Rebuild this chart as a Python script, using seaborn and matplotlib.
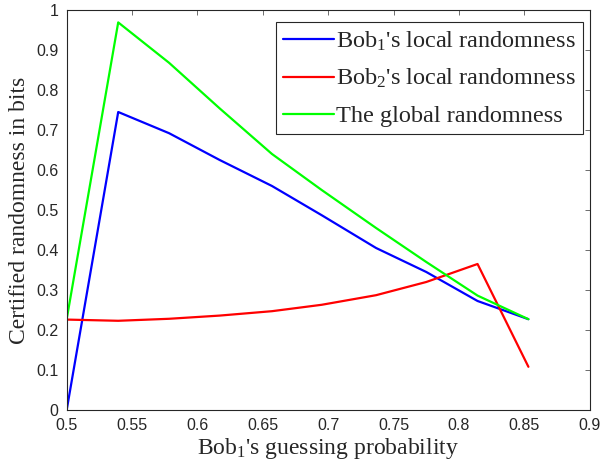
import numpy as np
import pandas as pd
import matplotlib
matplotlib.use("Agg")
import matplotlib.pyplot as plt
import seaborn as sns

# guessing probability of Bob1 (x) and certified randomness (y)
guess_prob = [0.5, 0.5394, 0.5783, 0.617, 0.657, 0.695, 0.7366, 0.775, 0.8142, 0.8531]
bob1_local = [0.0, 0.745, 0.692, 0.625, 0.560, 0.487, 0.405, 0.345, 0.2725, 0.227]
bob2_local = [0.226, 0.223, 0.228, 0.236, 0.247, 0.263, 0.287, 0.320, 0.365, 0.108]
global_rand = [0.227, 0.969, 0.868, 0.754, 0.640, 0.550, 0.455, 0.370, 0.286, 0.227]

labels = ["Bob$_1$'s local randomness", "Bob$_2$'s local randomness", "The global randomness"]
colors = ["#0000ff", "#ff0000", "#00ff00"]

df = pd.DataFrame({
    "x": guess_prob * 3,
    "y": bob1_local + bob2_local + global_rand,
    "series": np.repeat(labels, len(guess_prob)),
})

sns.set_style("white")
plt.rcParams["mathtext.fontset"] = "custom"
plt.rcParams["mathtext.rm"] = "Liberation Serif"
plt.rcParams["mathtext.it"] = "Liberation Serif"

fig = plt.figure(figsize=(6.03, 4.72), dpi=100)
ax = fig.add_axes([0.1106, 0.1314, 0.8674, 0.8474])

sns.lineplot(data=df, x="x", y="y", hue="series", palette=colors,
             linewidth=1.6, ax=ax, sort=False, estimator=None)

ax.set_xlim(0.5, 0.9)
ax.set_ylim(0, 1)
ax.set_xticks(np.arange(0.5, 0.901, 0.05))
ax.set_yticks(np.arange(0, 1.001, 0.1))
ax.set_xticklabels(["0.5", "0.55", "0.6", "0.65", "0.7", "0.75", "0.8", "0.85", "0.9"])
ax.set_yticklabels(["0", "0.1", "0.2", "0.3", "0.4", "0.5", "0.6", "0.7", "0.8", "0.9", "1"])
ax.tick_params(direction="in", length=3.5, width=0.6, color="#555555",
               top=True, right=True, labelsize=11.5, labelcolor="#262626")
ax.tick_params(axis="x", pad=6)
ax.tick_params(axis="y", pad=6)
for lab in ax.get_xticklabels() + ax.get_yticklabels():
    lab.set_family("Liberation Sans")
for sp in ax.spines.values():
    sp.set_color("#262626")
    sp.set_linewidth(0.8)

ax.set_xlabel("Bob$_1$'s guessing probability", family="Liberation Serif", fontsize=17, labelpad=2)
ax.set_ylabel("Certified randomness in bits", family="Liberation Serif", fontsize=17, labelpad=4)

leg = ax.legend(loc="upper right", bbox_to_anchor=(0.988, 0.97), fancybox=False,
                edgecolor="#262626", framealpha=1, borderpad=0.3, handlelength=2.1,
                handletextpad=0.1, labelspacing=0.6, borderaxespad=0,
                prop={"family": "Liberation Serif", "size": 17.5})
leg.get_frame().set_linewidth(0.8)

fig.savefig("out.png", dpi=100)
